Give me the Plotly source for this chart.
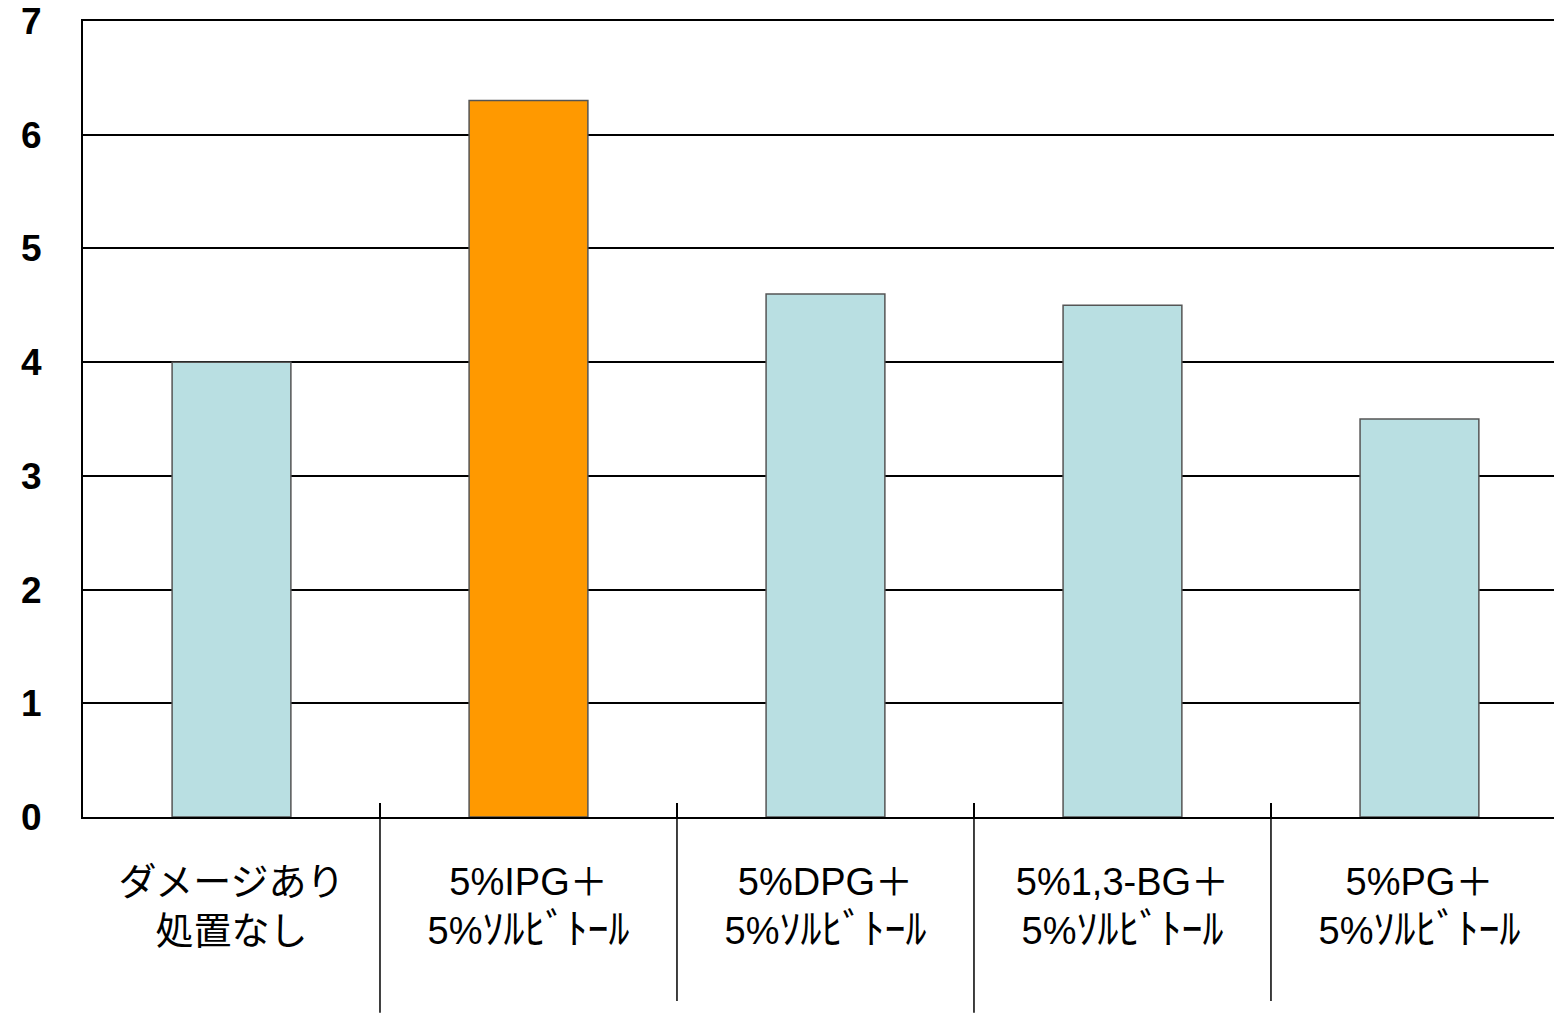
import plotly.graph_objects as go

kana = "<span style='font-size:42px'>ｿﾙﾋﾞﾄｰﾙ</span>"
categories = ["ダメージあり<br>処置なし", "5%IPG＋<br>5%" + kana, "5%DPG＋<br>5%" + kana,
              "5%1,3-BG＋<br>5%" + kana, "5%PG＋<br>5%" + kana]
values = [4.0, 6.3, 4.6, 4.5, 3.5]
bar_colors = ["#B9DFE2", "#FF9900", "#B9DFE2", "#B9DFE2", "#B9DFE2"]
y_ticks = [0, 1, 2, 3, 4, 5, 6, 7]

fig = go.Figure()
fig.add_trace(go.Bar(
    x=categories, y=values, width=0.4,
    marker=dict(color=bar_colors, line=dict(color="#555555", width=1.5)),
    showlegend=False, hoverinfo="skip",
))

# category separator lines extending below the axis
sep_len = [-0.246, -0.231]
for i in range(len(categories) - 1):
    fig.add_shape(type="line", xref="x", yref="paper",
                  x0=i + 0.5, x1=i + 0.5, y0=0, y1=sep_len[i % 2],
                  line=dict(color="black", width=1.5), layer="above")

fig.update_layout(
    width=1554, height=1013,
    margin=dict(l=83, r=0, t=21, b=196),
    plot_bgcolor="white", paper_bgcolor="white",
)
fig.update_xaxes(
    type="category", automargin=False,
    range=[-0.5, 4.453],
    tickson="boundaries", ticks="inside", ticklen=14, tickwidth=1.5, tickcolor="black",
    showline=True, linecolor="black", linewidth=2, mirror=True,
    showgrid=False, zeroline=False,
    tickfont=dict(family="Liberation Sans, Noto Sans CJK JP", size=38, color="black"),
    ticklabelstandoff=30,
)
fig.update_yaxes(
    range=[0, 7], tickmode="array", tickvals=y_ticks, automargin=False,
    showline=True, linecolor="black", linewidth=2,
    showgrid=True, gridcolor="black", gridwidth=2, zeroline=False,
    ticks="", ticklabeloverflow="allow",
    tickfont=dict(family="Liberation Sans", size=37, color="black", weight="bold"),
    ticklabelstandoff=32,
)

fig.write_html("out.html", config={"displayModeBar": False},
               post_script="document.body.style.margin='0';document.body.style.overflow='hidden';")
